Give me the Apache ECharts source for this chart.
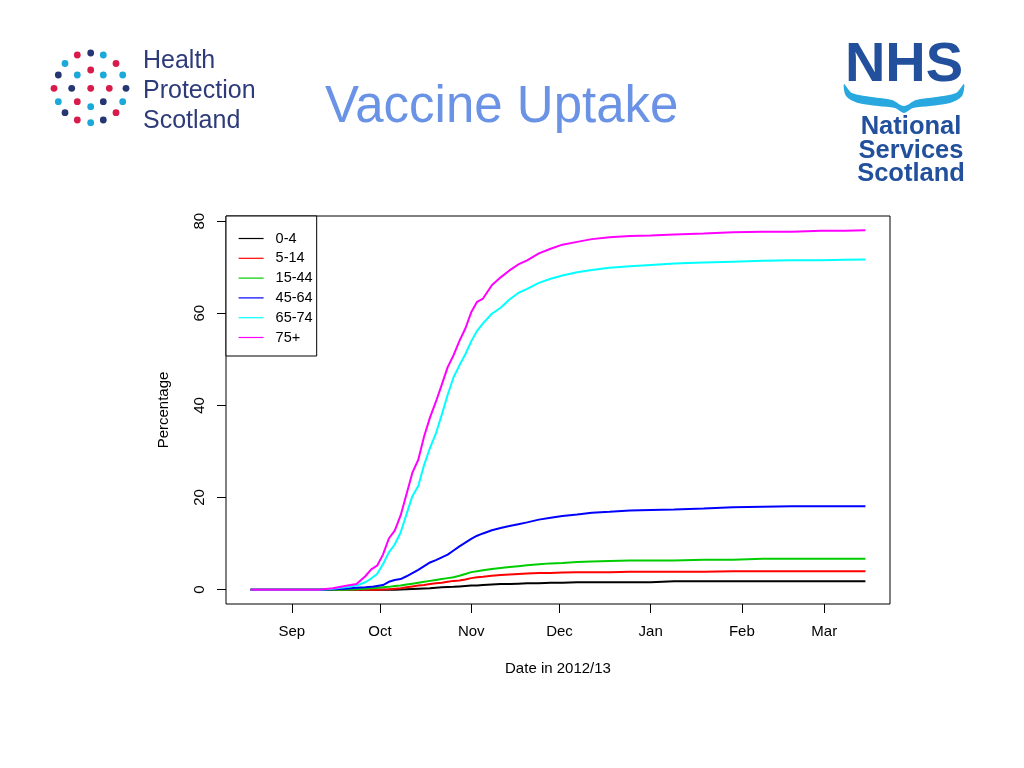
<!DOCTYPE html>
<html>
<head>
<meta charset="utf-8">
<script src="https://cdn.jsdelivr.net/npm/echarts@6/dist/echarts.min.js"></script>
<style>
html,body{margin:0;padding:0;background:#fff;}
#chart{width:1024px;height:768px;}
</style>
</head>
<body>
<div id="chart"></div>
<script>
// Days since 1 Sep 2012
const days = [-14, 9, 14, 18, 22, 25, 27, 29, 31, 33, 35, 37, 39, 41, 43, 45, 47, 49, 51, 53, 55, 57, 59, 61, 63, 65, 68, 71, 74, 77, 80, 84, 88, 92, 97, 102, 108, 115, 122, 130, 140, 150, 160, 170, 180, 188, 195];

const age0_4   = [0, 0, 0, 0, 0, 0, 0, 0, 0, 0, 0, 0.05, 0.1, 0.15, 0.2, 0.25, 0.3, 0.4, 0.5, 0.55, 0.6, 0.7, 0.8, 0.9, 0.9, 1.0, 1.1, 1.2, 1.2, 1.3, 1.4, 1.4, 1.5, 1.5, 1.6, 1.6, 1.6, 1.6, 1.6, 1.8, 1.8, 1.8, 1.8, 1.8, 1.8, 1.8, 1.8];
const age5_14  = [0, 0, 0, 0, 0, 0, 0, 0, 0.05, 0.1, 0.2, 0.3, 0.5, 0.7, 0.9, 1.0, 1.2, 1.4, 1.5, 1.7, 1.9, 2.0, 2.2, 2.5, 2.7, 2.8, 3.0, 3.2, 3.3, 3.4, 3.5, 3.6, 3.6, 3.7, 3.8, 3.8, 3.8, 3.9, 3.9, 3.9, 3.9, 4.0, 4.0, 4.0, 4.0, 4.0, 4.0];
const age15_44 = [0, 0, 0, 0, 0.1, 0.2, 0.3, 0.4, 0.5, 0.6, 0.8, 0.9, 1.1, 1.3, 1.5, 1.7, 1.9, 2.1, 2.3, 2.5, 2.7, 3.0, 3.4, 3.8, 4.0, 4.2, 4.5, 4.7, 4.9, 5.1, 5.3, 5.5, 5.7, 5.8, 6.0, 6.1, 6.2, 6.3, 6.3, 6.3, 6.5, 6.5, 6.7, 6.7, 6.7, 6.7, 6.7];
const age45_64 = [0, 0, 0.1, 0.2, 0.4, 0.5, 0.6, 0.8, 1.0, 1.7, 2.1, 2.3, 2.9, 3.6, 4.3, 5.1, 5.9, 6.4, 7.0, 7.6, 8.5, 9.4, 10.2, 11.0, 11.7, 12.2, 12.9, 13.4, 13.8, 14.2, 14.6, 15.2, 15.6, 16.0, 16.3, 16.7, 16.9, 17.2, 17.3, 17.4, 17.6, 17.9, 18.0, 18.1, 18.1, 18.1, 18.1];
const age65_74 = [0, 0, 0.2, 0.5, 0.9, 1.6, 2.4, 3.4, 5.5, 8.1, 9.8, 12.4, 16.4, 20.3, 22.5, 27.1, 30.8, 33.9, 38.0, 42.3, 46.1, 48.7, 51.1, 53.9, 56.2, 57.8, 59.9, 61.2, 63.0, 64.4, 65.3, 66.6, 67.5, 68.2, 68.9, 69.4, 69.9, 70.2, 70.5, 70.8, 71.0, 71.2, 71.4, 71.5, 71.5, 71.6, 71.7];
const age75p   = [0, 0, 0.3, 0.8, 1.2, 2.9, 4.4, 5.2, 7.6, 11.1, 12.8, 16.1, 20.7, 25.4, 28.2, 33.3, 37.4, 40.8, 44.5, 48.3, 50.9, 54.0, 56.7, 60.2, 62.5, 63.2, 66.1, 67.8, 69.3, 70.6, 71.5, 73.0, 74.0, 74.9, 75.5, 76.1, 76.5, 76.8, 76.9, 77.1, 77.3, 77.6, 77.7, 77.7, 77.9, 77.9, 78.0];

const seriesNames = ['0-4', '5-14', '15-44', '45-64', '65-74', '75+'];
const seriesValues = [age0_4, age5_14, age15_44, age45_64, age65_74, age75p];
const seriesColors = ['#000000', '#FF0000', '#00CD00', '#0000FF', '#00FFFF', '#FF00FF'];

const tickDays = [0, 30, 61, 91, 122, 153, 181];
const tickLabels = ['Sep', 'Oct', 'Nov', 'Dec', 'Jan', 'Feb', 'Mar'];
const yTicks = [0, 20, 40, 60, 80];

const FONT = 'Liberation Sans, Arial, Helvetica, sans-serif';

// Logo dots (decoration)
const dotNavy = '#263673', dotRed = '#d81b4a', dotBlue = '#1ba9d9';
const logoDots = [
  [77.3,55,dotRed],[90.7,53,dotNavy],[103.3,55,dotBlue],
  [65,63.5,dotBlue],[116,63.5,dotRed],
  [90.7,70,dotRed],
  [58.3,75,dotNavy],[77.3,75,dotBlue],[103.3,75,dotBlue],[122.7,75,dotBlue],
  [54,88.3,dotRed],[71.7,88.3,dotNavy],[90.7,88.3,dotRed],[109.3,88.3,dotRed],[126,88.3,dotNavy],
  [58.3,101.7,dotBlue],[77.3,101.7,dotRed],[103.3,101.7,dotNavy],[122.7,101.7,dotBlue],
  [90.7,106.7,dotBlue],
  [65,112.7,dotNavy],[116,112.7,dotRed],
  [77.3,120,dotRed],[90.7,122.7,dotBlue],[103.3,120,dotNavy]
];

const graphics = [];
logoDots.forEach(d => graphics.push({type:'circle', shape:{cx:d[0], cy:d[1], r:3.4}, style:{fill:d[2]}, silent:true}));
['Health','Protection','Scotland'].forEach((t,i) => graphics.push({
  type:'text', x:143, y:61 + i*30,
  style:{text:t, font:'25px ' + FONT, fill:'#2d3b78', verticalAlign:'middle', align:'left'}, silent:true
}));
graphics.push({type:'text', x:904, y:66, style:{text:'NHS', font:'bold 56px ' + FONT, fill:'#22509c', verticalAlign:'middle', align:'center'}, silent:true});
graphics.push({type:'polygon', shape:{smooth:0.3, points:[
  [844,84],[852,93],[872,97],[892,100],[904,106],[916,100],[936,97],[956,93],[964,84],
  [962,96],[950,103],[930,106],[913,108],[904,113],[895,108],[878,106],[858,103],[846,96]
]}, style:{fill:'#29a8e0'}, silent:true});
['National','Services','Scotland'].forEach((t,i) => graphics.push({
  type:'text', x:911, y:127 + i*23.5,
  style:{text:t, font:'bold 25.5px ' + FONT, fill:'#22509c', verticalAlign:'middle', align:'center'}, silent:true
}));

const chart = echarts.init(document.getElementById('chart'), null, {renderer:'canvas'});
chart.setOption({
  backgroundColor:'#ffffff',
  animation:false,
  title:{text:'Vaccine Uptake', left:325, top:82, padding:0,
    textStyle:{fontFamily:FONT, fontSize:51, fontWeight:'normal', color:'#6a93e6'}},
  graphic: graphics,
  grid:{left:226, top:216, right:134, bottom:164, show:true, borderColor:'#000', borderWidth:1, backgroundColor:'transparent'},
  legend:{
    orient:'vertical', left:226, top:216,
    padding:[15, 4, 11, 12], itemGap:4.8, itemWidth:25, itemHeight:15,
    borderColor:'#000', borderWidth:1, backgroundColor:'#fff',
    lineStyle:{width:1.2},
    itemStyle:{opacity:0},
    textStyle:{fontFamily:FONT, fontSize:14.5, color:'#000', padding:[0,0,0,7]},
    data: seriesNames
  },
  xAxis:{
    type:'value', min:-22.36, max:203.36,
    name:'Date in 2012/13', nameLocation:'middle', nameGap:57,
    nameTextStyle:{fontFamily:FONT, fontSize:15, color:'#000'},
    axisLine:{show:false, onZero:false},
    splitLine:{show:false},
    axisTick:{show:true, inside:false, customValues:tickDays, length:9, lineStyle:{color:'#000', width:1}},
    axisLabel:{customValues:tickDays, margin:20, fontFamily:FONT, fontSize:15, color:'#000',
      formatter: v => { const i = tickDays.indexOf(v); return i >= 0 ? tickLabels[i] : ''; }}
  },
  yAxis:{
    type:'value', min:-3.12, max:81.12,
    name:'Percentage', nameLocation:'middle', nameGap:55, nameRotate:90,
    nameTextStyle:{fontFamily:FONT, fontSize:15, color:'#000'},
    axisLine:{show:false, onZero:false},
    splitLine:{show:false},
    axisTick:{show:true, inside:false, customValues:yTicks, length:9, lineStyle:{color:'#000', width:1}},
    axisLabel:{customValues:yTicks, rotate:90, margin:19, fontFamily:FONT, fontSize:15, color:'#000'}
  },
  series: seriesNames.map((n,k) => ({
    name:n, type:'line', symbol:'none', smooth:false,
    color:seriesColors[k],
    lineStyle:{color:seriesColors[k], width:2},
    data: days.map((d,i) => [d, seriesValues[k][i]])
  }))
});
</script>
</body>
</html>
